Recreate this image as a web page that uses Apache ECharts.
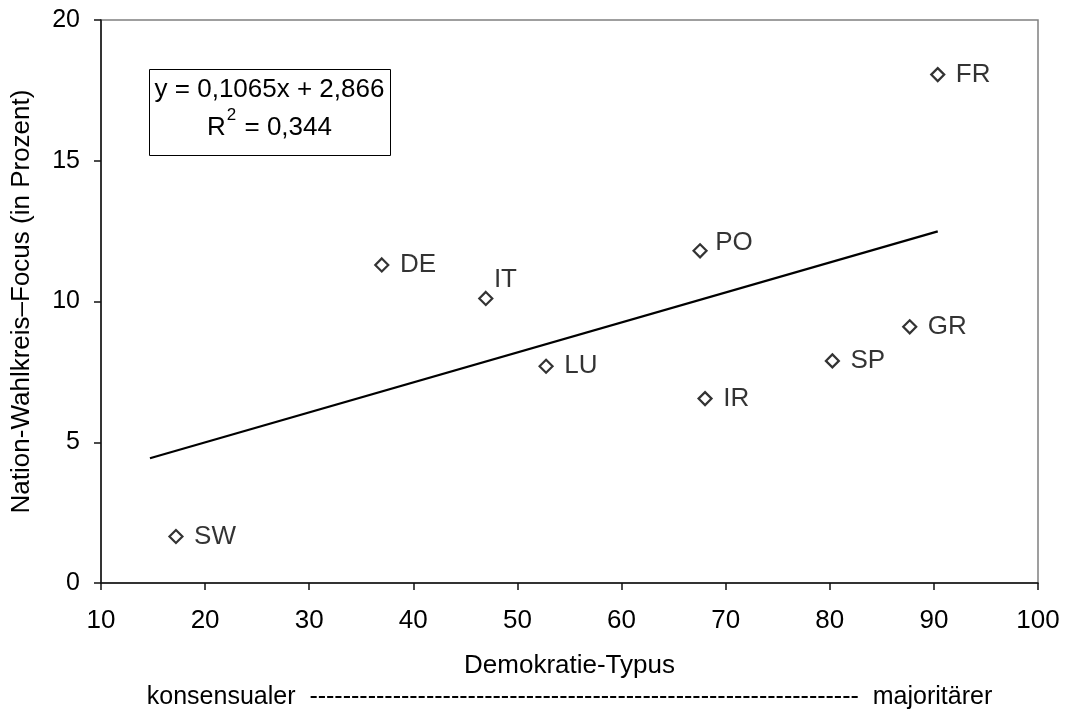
<!DOCTYPE html>
<html>
<head>
<meta charset="utf-8">
<script src="https://cdn.jsdelivr.net/npm/echarts@6/dist/echarts.min.js"></script>
<style>
html,body{margin:0;padding:0;background:#fff;}
#chart{width:1071px;height:714px;}
</style>
</head>
<body>
<div id="chart"></div>
<script>
// ---- data ----
const countries = ['SW', 'DE', 'IT', 'LU', 'PO', 'IR', 'SP', 'GR', 'FR'];
const demokratieTypus = [17.2, 36.97, 46.96, 52.75, 67.54, 68.02, 80.25, 87.68, 90.37];
const nationFocus = [1.65, 11.30, 10.11, 7.70, 11.80, 6.55, 7.89, 9.10, 18.06];
const trendSlope = 0.1065;
const trendIntercept = 2.866;
const trendXRange = [14.7, 90.37];
const equationText = 'y = 0,1065x + 2,866';
const r2Text = ' = 0,344';
const xAxisTitle = 'Demokratie-Typus';
const yAxisTitle = 'Nation-Wahlkreis–Focus (in Prozent)';
const scaleText = 'konsensualer  ------------------------------------------------------------------  majoritärer';

// ---- styling ----
const FONT = '"Liberation Sans", Arial, sans-serif';
const labelOffsets = { IT: [-10, -19], PO: [-3, -8] };

const scatterData = countries.map((c, i) => {
  const item = { name: c, value: [demokratieTypus[i], nationFocus[i]] };
  if (labelOffsets[c]) item.label = { offset: labelOffsets[c] };
  return item;
});
const trendData = trendXRange.map(x => [x, trendSlope * x + trendIntercept]);

const chart = echarts.init(document.getElementById('chart'), null, { renderer: 'canvas' });
chart.setOption({
  animation: false,
  backgroundColor: '#fff',
  textStyle: { fontFamily: FONT, color: '#000' },
  grid: { left: 101, right: 33, top: 20, bottom: 131, show: true, borderColor: '#808080', borderWidth: 1.5, backgroundColor: 'transparent' },
  xAxis: {
    type: 'value', min: 10, max: 100, interval: 10,
    name: xAxisTitle, nameLocation: 'middle', nameGap: 70,
    nameTextStyle: { fontFamily: FONT, fontSize: 26, color: '#000' },
    axisLine: { show: true, onZero: false, lineStyle: { color: '#111', width: 1.5 } },
    axisTick: { show: true, inside: false, length: 7, lineStyle: { color: '#111', width: 1.5 } },
    axisLabel: { fontFamily: FONT, fontSize: 26, color: '#000', margin: 25 },
    splitLine: { show: false }
  },
  yAxis: {
    type: 'value', min: 0, max: 20, interval: 5,
    name: yAxisTitle, nameLocation: 'middle', nameGap: 66, nameRotate: 90,
    nameTextStyle: { fontFamily: FONT, fontSize: 26, color: '#000' },
    axisLine: { show: true, onZero: false, lineStyle: { color: '#111', width: 1.5 } },
    axisTick: { show: true, inside: false, length: 7, lineStyle: { color: '#111', width: 1.5 } },
    axisLabel: { fontFamily: FONT, fontSize: 25, color: '#000', margin: 21 },
    splitLine: { show: false }
  },
  series: [
    {
      type: 'line',
      data: trendData,
      symbol: 'none',
      lineStyle: { color: '#000', width: 2.2 },
      silent: true,
      z: 2
    },
    {
      type: 'scatter',
      data: scatterData,
      symbol: 'diamond',
      symbolSize: 13,
      itemStyle: { color: '#fff', borderColor: '#000', borderWidth: 2.2 },
      label: {
        show: true, position: 'right', distance: 10.5,
        formatter: p => p.name,
        fontFamily: FONT, fontSize: 26, color: '#000'
      },
      z: 3
    }
  ],
  graphic: [
    {
      type: 'rect', left: 149, top: 69, z: 10,
      shape: { width: 241, height: 86 },
      style: { fill: '#fff', stroke: '#000', lineWidth: 1 }
    },
    {
      type: 'text', x: 269.5, y: 90, z: 11,
      style: { text: equationText, font: '26px ' + FONT, fill: '#000', align: 'center', verticalAlign: 'middle' }
    },
    {
      type: 'text', x: 269.5, y: 124, z: 11,
      style: {
        text: '{b|R}{s|2}{b|' + r2Text + '}',
        align: 'center', verticalAlign: 'middle', fill: '#000',
        rich: {
          b: { fontFamily: FONT, fontSize: 26, lineHeight: 34, fill: '#000', verticalAlign: 'bottom' },
          s: { fontFamily: FONT, fontSize: 17, lineHeight: 17, fill: '#000', verticalAlign: 'top', padding: [0, 1, 0, 1] }
        }
      }
    },
    {
      type: 'text', x: 569.5, y: 697, z: 11,
      style: { text: scaleText, font: '25px ' + FONT, fill: '#000', align: 'center', verticalAlign: 'middle' }
    }
  ]
});
</script>
</body>
</html>
